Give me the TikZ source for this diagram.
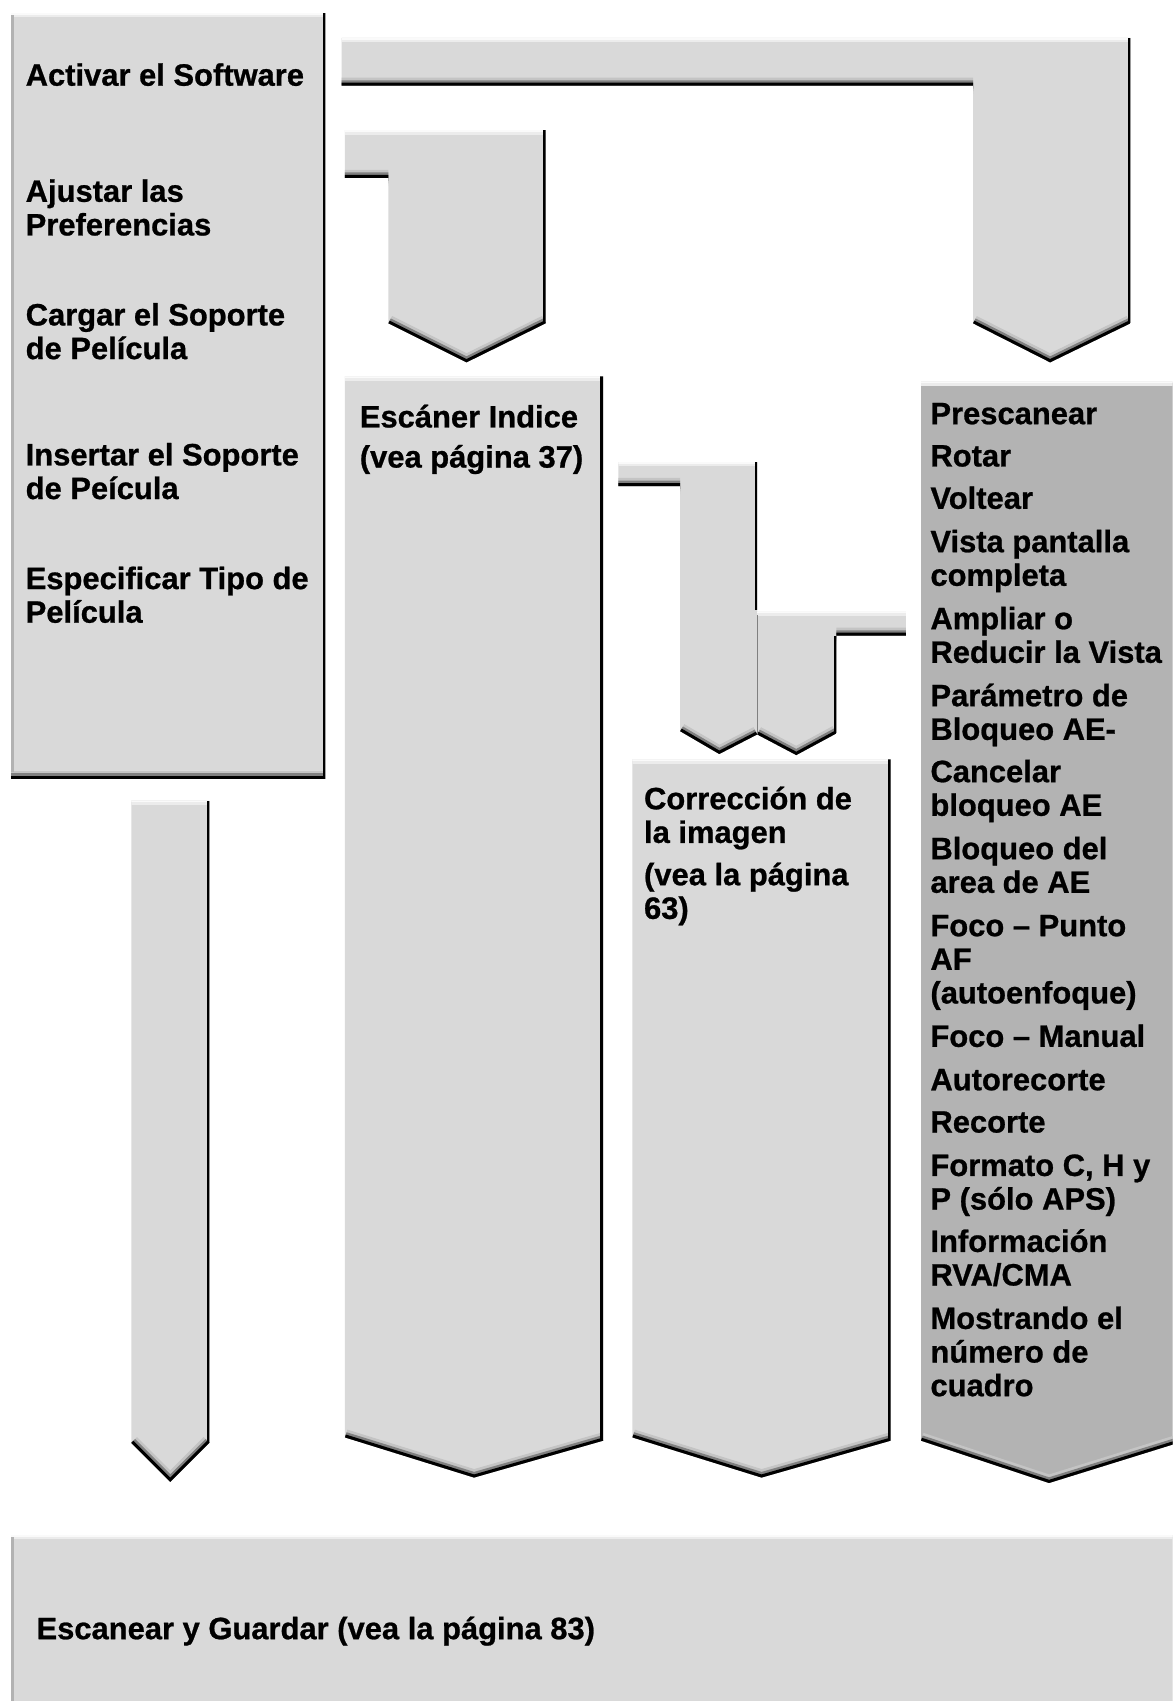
\documentclass[tikz,border=0pt]{standalone}
\usepackage{fontspec}
\setmainfont{Liberation Sans}[BoldFeatures={FakeBold=0.8}]
\definecolor{boxgray}{RGB}{217,217,217}
\definecolor{colgray}{RGB}{179,179,179}
\definecolor{hlA}{RGB}{236,236,236}
\definecolor{hlB}{RGB}{250,250,250}
\definecolor{bandA}{RGB}{196,196,196}
\definecolor{bandB}{RGB}{128,128,128}
\definecolor{edgegray}{RGB}{178,178,178}
% #1 fill, #2 polygon, #3 top edge, #4 bottom edges, #5 right edges
\newcommand\mkshape[5]{%
  \fill[#1] #2 -- cycle;
  \begin{scope}
    \clip #2 -- cycle;
    \draw[hlwide] #3; \draw[hlthin] #3;
    \draw[bandwide] #4; \draw[bandmid] #4; \draw[banddark] #4;
    \draw[redge] #5;
  \end{scope}}
\newcommand\stk[1]{\vtop{\baselineskip=31pt\lineskiplimit=-50pt\lineskip=0pt #1}}
\begin{document}
\begin{tikzpicture}[x=1pt,y=-1pt,
  lbl/.style={inner sep=0pt, anchor=base west, font=\fontsize{28.5}{31}\selectfont\bfseries},
  hlwide/.style={draw=hlA, line width=8pt},
  hlthin/.style={draw=hlB, line width=3pt},
  bandwide/.style={draw=bandA, line width=15pt, line join=miter},
  bandmid/.style={draw=bandB, line width=10pt, line join=miter},
  banddark/.style={draw=black, line width=5.5pt, line join=miter},
  redge/.style={draw=black, line width=5pt},
  seam/.style={draw=gray, line width=1pt}
]
\fill[white] (0,0) rectangle (1081,1568);
\clip (0,0) rectangle (1081,1568);

% left box
\mkshape{boxgray}{(10,12)--(300,12)--(300,718)--(10,718)}{(10,12)--(300,12)}{(10,718)--(300,718)}{(300,12)--(300,718)}
\fill[edgegray] (10,14) rectangle (13,712);

% top bent arrow
\mkshape{boxgray}{(315,35)--(1042,35)--(1042,298)--(968,334)--(897,298)--(897,79)--(315,79)}{(315,35)--(1042,35)}{(315,79)--(897,79) (897,298)--(968,334)--(1042,298)}{(1042,35)--(1042,298)}

% second bent arrow
\mkshape{boxgray}{(318,120)--(503,120)--(503,298)--(430,334)--(358,298)--(358,164)--(318,164)}{(318,120)--(503,120)}{(318,164)--(358,164) (358,298)--(430,334)--(503,298)}{(503,120)--(503,298)}

% Escaner column
\mkshape{boxgray}{(318,347)--(556,347)--(556,1328)--(437,1362)--(318,1325)}{(318,347)--(556,347)}{(318,1325)--(437,1362)--(556,1328)}{(556,347)--(556,1328)}

% Correccion column
\mkshape{boxgray}{(583,700)--(821,700)--(821,1328)--(702,1362)--(583,1325)}{(583,700)--(821,700)}{(583,1325)--(702,1362)--(821,1328)}{(821,700)--(821,1328)}

% right column
\mkshape{colgray}{(849,352)--(1086,352)--(1086,1330)--(967,1367)--(849,1328)}{(849,352)--(1086,352)}{(849,1328)--(967,1367)--(1086,1330)}{(1086,352)--(1086,1330)}

% small arrow A
\mkshape{boxgray}{(570,426)--(698,426)--(698,677)--(663,695)--(627,674)--(627,448)--(570,448)}{(570,426)--(698,426)}{(570,448)--(627,448) (627,674)--(663,695)--(698,677)}{(698,426)--(698,562)}

% small arrow B
\mkshape{boxgray}{(698,564)--(835,564)--(835,586)--(771,586)--(771,676)--(734,696)--(698,677)}{(698,564)--(835,564)}{(771,586)--(835,586) (698,677)--(734,696)--(771,676)}{(771,586)--(771,676)}
\draw[seam] (698.5,567)--(698.5,677);

% thin arrow
\mkshape{boxgray}{(121,738)--(193,738)--(193,1330)--(157,1366)--(121,1330)}{(121,738)--(193,738)}{(121,1330)--(157,1366)--(193,1330)}{(193,738)--(193,1330)}

% bottom box
\mkshape{boxgray}{(10,1415)--(1090,1415)--(1090,1575)--(10,1575)}{(10,1415)--(1090,1415)}{(0,0)}{(0,0)}
\fill[edgegray] (10,1417) rectangle (12.5,1575);

% texts: left box
\node[lbl] (t1) at (23.5,79) {Activar el Software};
\node[lbl] (t2) at (23.5,186) {\stk{\hbox{Ajustar las}\hbox{Preferencias}}};
\node[lbl] (t3) at (23.5,300) {\stk{\hbox{Cargar el Soporte}\hbox{de Película}}};
\node[lbl] (t4) at (23.5,429) {\stk{\hbox{Insertar el Soporte}\hbox{de Peícula}}};
\node[lbl] (t5) at (23.5,543) {\stk{\hbox{Especificar Tipo de}\hbox{Película}}};

% Escaner
\node[lbl] (esc) at (331.5,394) {\vtop{\baselineskip=37pt\hbox{Escáner Indice}\hbox{(vea página 37)}}};

% Correccion
\node[lbl] (corr1) at (593.5,746) {\stk{\hbox{Corrección de}\hbox{la imagen}}};
\node[lbl] (corr2) at (593.5,816) {\stk{\hbox{(vea la página}\hbox{63)}}};

% right column
\node[lbl] (r1) at (857.5,391) {Prescanear};
\node[lbl] (r2) at (857.5,430) {Rotar};
\node[lbl] (r3) at (857.5,469) {Voltear};
\node[lbl] (r4) at (857.5,509) {\stk{\hbox{Vista pantalla}\hbox{completa}}};
\node[lbl] (r5) at (857.5,580) {\stk{\hbox{Ampliar o}\hbox{Reducir la Vista}}};
\node[lbl] (r6) at (857.5,651) {\stk{\hbox{Parámetro de}\hbox{Bloqueo AE-}}};
\node[lbl] (r7) at (857.5,721) {\stk{\hbox{Cancelar}\hbox{bloqueo AE}}};
\node[lbl] (r8) at (857.5,792) {\stk{\hbox{Bloqueo del}\hbox{area de AE}}};
\node[lbl] (r9) at (857.5,863) {\stk{\hbox{Foco – Punto}\hbox{AF}\hbox{(autoenfoque)}}};
\node[lbl] (r10) at (857.5,965) {Foco – Manual};
\node[lbl] (r11) at (857.5,1005) {Autorecorte};
\node[lbl] (r12) at (857.5,1044) {Recorte};
\node[lbl] (r13) at (857.5,1084) {\stk{\hbox{Formato C, H y}\hbox{P (sólo APS)}}};
\node[lbl] (r14) at (857.5,1154) {\stk{\hbox{Información}\hbox{RVA/CMA}}};
\node[lbl] (r15) at (857.5,1225) {\stk{\hbox{Mostrando el}\hbox{número de}\hbox{cuadro}}};

% bottom
\node[lbl] (scan) at (33.5,1511) {Escanear y Guardar (vea la página 83)};
\end{tikzpicture}
\end{document}
